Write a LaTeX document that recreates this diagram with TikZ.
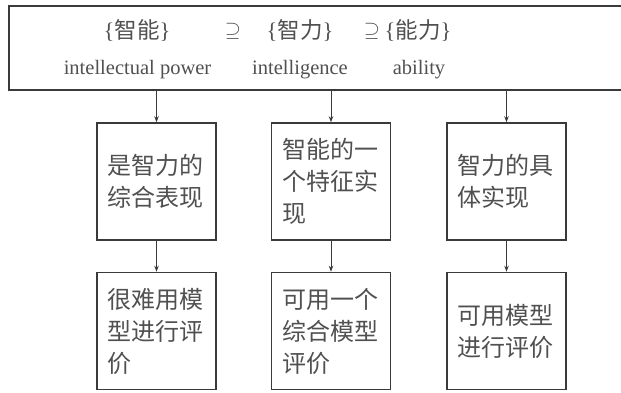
\documentclass[tikz,border=0pt]{standalone}
\usepackage{fontspec}
\setmainfont{Liberation Serif}
\newfontfamily\cjk{Noto Sans CJK SC}
\usetikzlibrary{arrows.meta,calc}
\definecolor{txt}{HTML}{505050}
\definecolor{ln}{HTML}{3A3A3A}
\tikzset{
  cbox/.style={draw=ln, line width=1.6pt, minimum width=119pt, minimum height=117pt,
    text width=98pt, inner sep=0pt, align=left, text=txt,
    font=\cjk\fontsize{24}{32}\selectfont},
  tcjk/.style={text=txt, inner sep=0pt, font=\fontsize{22.5}{24}\selectfont},
  teng/.style={text=txt, inner sep=0pt, font=\fontsize{20.5}{22}\selectfont},
  conn/.style={draw=ln, line width=0.8pt, -{Stealth[length=6pt,width=4.5pt]}},
}
\begin{document}
\begin{tikzpicture}[x=1pt,y=-1pt]
\useasboundingbox (0,0) rectangle (621,392);
% top box
\node[draw=ln, line width=2pt, minimum width=624pt, minimum height=84pt, anchor=north west, inner sep=0pt] (top) at (8,5) {};
% top texts
\node[tcjk] (k1) at (137,31) {\{{\cjk 智能}\}};
\node[tcjk] (s1) at (233,31) {$\supseteq$};
\node[tcjk] (k2) at (300,31) {\{{\cjk 智力}\}};
\node[tcjk] (s2) at (372,31) {$\supseteq$};
\node[tcjk] (k3) at (418,31) {\{{\cjk 能力}\}};
\node[teng] (e1) at (137.5,70) {intellectual power};
\node[teng] (e2) at (300,70) {intelligence};
\node[teng] (e3) at (419,70) {ability};
% row 2
\node[cbox] (b1) at (156.5,181.5) {是智力的\\综合表现};
\node[cbox] (b2) at (331,181.5) {智能的一\\个特征实\\现};
\node[cbox] (b3) at (506.5,181.5) {智力的具\\体实现};
% row 3
\node[cbox] (c1) at (156.5,331) {很难用模\\型进行评\\价};
\node[cbox] (c2) at (331,331) {可用一个\\综合模型\\评价};
\node[cbox] (c3) at (506.5,331) {可用模型\\进行评价};
% connectors
\foreach \b in {b1,b2,b3}{
  \draw[conn] (\b.north |- top.south) -- (\b.north);
}
\draw[conn] (b1) -- (c1);
\draw[conn] (b2) -- (c2);
\draw[conn] (b3) -- (c3);
\end{tikzpicture}
\end{document}
